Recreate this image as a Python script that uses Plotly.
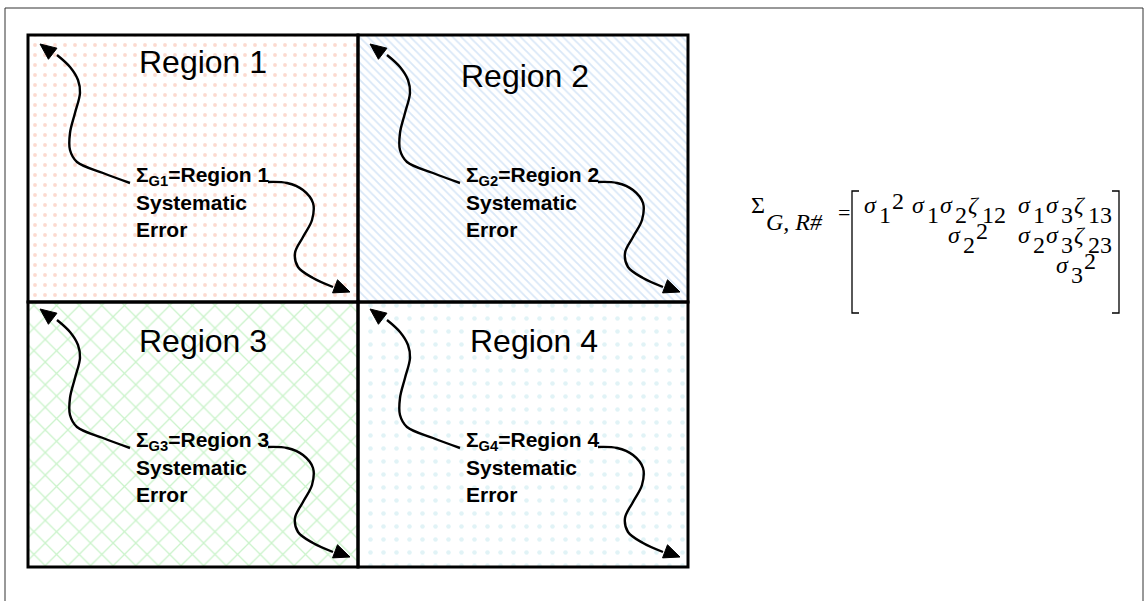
import plotly.graph_objects as go
import math

W, H = 1145, 601

# ---- diagram content ----
region_titles = ["Region 1", "Region 2", "Region 3", "Region 4"]
region_ids = ["G1", "G2", "G3", "G4"]
region_boxes = [(28, 35, 358, 302), (358, 35, 688, 302), (28, 302, 358, 567), (358, 302, 688, 567)]
title_pos = [(203, 62), (525, 76), (203, 341), (534, 341)]
text_pos = [(134, 176), (464, 176), (134, 441), (464, 441)]
arrow_offset = [(0, 0), (330, 0), (0, 265), (330, 265)]
patterns = [
    dict(shape=".", fgcolor="#f7b6a2", bgcolor="white", size=10, solidity=0.12),
    dict(shape="\\", fgcolor="#b3d0f0", bgcolor="white", size=6, solidity=0.3),
    dict(shape="x", fgcolor="#98e898", bgcolor="white", size=16, solidity=0.16),
    dict(shape=".", fgcolor="#c3e8ee", bgcolor="white", size=13, solidity=0.1),
]
left_arrow = [(130, 183), (103, 173), (77, 162), (70, 150), (70, 133), (75, 113), (80, 93),
              (78, 80), (70, 67), (57, 55), (40, 44)]
right_arrow = [(268, 182), (287, 183), (303, 190), (313, 203), (312, 220), (303, 237), (295, 253),
               (298, 267), (313, 278), (333, 287), (350, 292)]

fig = go.Figure()

for (x0, y0, x1, y1), pat in zip(region_boxes, patterns):
    fig.add_trace(go.Scatter(x=[x0, x1, x1, x0, x0], y=[y0, y0, y1, y1, y0], mode="lines",
                             line=dict(width=0), fill="toself", fillcolor="white",
                             fillpattern=pat, hoverinfo="skip", showlegend=False))

shapes = []
shapes.append(dict(type="rect", x0=5, y0=8, x1=1143, y1=610, line=dict(color="#333", width=1)))
for (x0, y0, x1, y1) in region_boxes:
    shapes.append(dict(type="rect", x0=x0, y0=y0, x1=x1, y1=y1, line=dict(color="black", width=3)))

def arrowhead(p_from, p_to, L=16, w=7):
    dx, dy = p_to[0] - p_from[0], p_to[1] - p_from[1]
    n = math.hypot(dx, dy)
    ux, uy = dx / n, dy / n
    bx, by = p_to[0] - ux * L, p_to[1] - uy * L
    return [p_to, (bx - uy * w, by + ux * w), (bx + uy * w, by - ux * w), p_to]

for (ox, oy) in arrow_offset:
    for path in (left_arrow, right_arrow):
        pts = [(x + ox, y + oy) for x, y in path]
        fig.add_trace(go.Scatter(x=[p[0] for p in pts[:-1]], y=[p[1] for p in pts[:-1]], mode="lines",
                                 line=dict(color="black", width=2.4, shape="spline", smoothing=1.0),
                                 hoverinfo="skip", showlegend=False))
        tri = arrowhead(pts[-3], pts[-1])
        fig.add_trace(go.Scatter(x=[p[0] for p in tri], y=[p[1] for p in tri], mode="lines",
                                 line=dict(color="black", width=1), fill="toself", fillcolor="black",
                                 hoverinfo="skip", showlegend=False))

annotations = []
for t, (x, y) in zip(region_titles, title_pos):
    annotations.append(dict(x=x, y=y, text=t, showarrow=False, xanchor="center", yanchor="middle",
                            font=dict(family="Liberation Sans, Arial", size=32, color="black")))
for rid, t, (x, y) in zip(region_ids, region_titles, text_pos):
    lines = [f"<b>Σ<sub>{rid}</sub>={t}</b>", "<b>Systematic</b>", "<b>Error</b>"]
    for i, ln in enumerate(lines):
        annotations.append(dict(x=x, y=y + i * 26.5, text=ln, showarrow=False, xanchor="left", yanchor="middle",
                                font=dict(family="Liberation Sans, Arial", size=21, color="black")))

# ---- covariance matrix ----
TF = "Liberation Serif, Times New Roman"
annotations.append(dict(x=749, y=205, text="Σ", showarrow=False, xanchor="left", yanchor="middle",
                        font=dict(family=TF, size=24, color="black")))
annotations.append(dict(x=764, y=222, text="<i>G, R#</i>", showarrow=False, xanchor="left", yanchor="middle",
                        font=dict(family=TF, size=24, color="black")))
annotations.append(dict(x=836, y=212, text="=", showarrow=False, xanchor="left", yanchor="middle",
                        font=dict(family=TF, size=22, color="black")))

def ent(x, y, parts):
    cx = x
    for txt, dy, it in parts:
        annotations.append(dict(x=cx, y=y + dy, text=(f"<i>{txt}</i>" if it else txt), showarrow=False,
                                xanchor="left", yanchor="middle", font=dict(family=TF, size=24, color="black")))
        cx += ((15 if txt == "σ" else 14) if it else 13 * len(txt))

matrix_entries = [
    (862, 205, [("σ", 0, True), ("1", 10, False), ("2", -4, False)]),
    (910, 205, [("σ", 0, True), ("1", 10, False), ("σ", 0, True), ("2", 10, False), ("ζ", 0, True), ("12", 10, False)]),
    (1016, 205, [("σ", 0, True), ("1", 10, False), ("σ", 0, True), ("3", 10, False), ("ζ", 0, True), ("13", 10, False)]),
    (946, 235, [("σ", 0, True), ("2", 10, False), ("2", -4, False)]),
    (1016, 235, [("σ", 0, True), ("2", 10, False), ("σ", 0, True), ("3", 10, False), ("ζ", 0, True), ("23", 10, False)]),
    (1054, 265, [("σ", 0, True), ("3", 10, False), ("2", -4, False)]),
]
for x, y, parts in matrix_entries:
    ent(x, y, parts)

shapes.append(dict(type="path", path="M 859 191 L 852 191 L 852 313 L 859 313", line=dict(color="black", width=1.3)))
shapes.append(dict(type="path", path="M 1112 191 L 1119 191 L 1119 313 L 1112 313", line=dict(color="black", width=1.3)))

fig.update_layout(
    width=W, height=H, margin=dict(l=0, r=0, t=0, b=0),
    paper_bgcolor="white", plot_bgcolor="white",
    xaxis=dict(range=[0, W], visible=False, fixedrange=True),
    yaxis=dict(range=[H, 0], visible=False, fixedrange=True),
    shapes=shapes, annotations=annotations, showlegend=False,
)
fig.write_html("out.html", config={"displayModeBar": False},
               post_script="document.body.style.margin='0';document.body.style.overflow='hidden';")
